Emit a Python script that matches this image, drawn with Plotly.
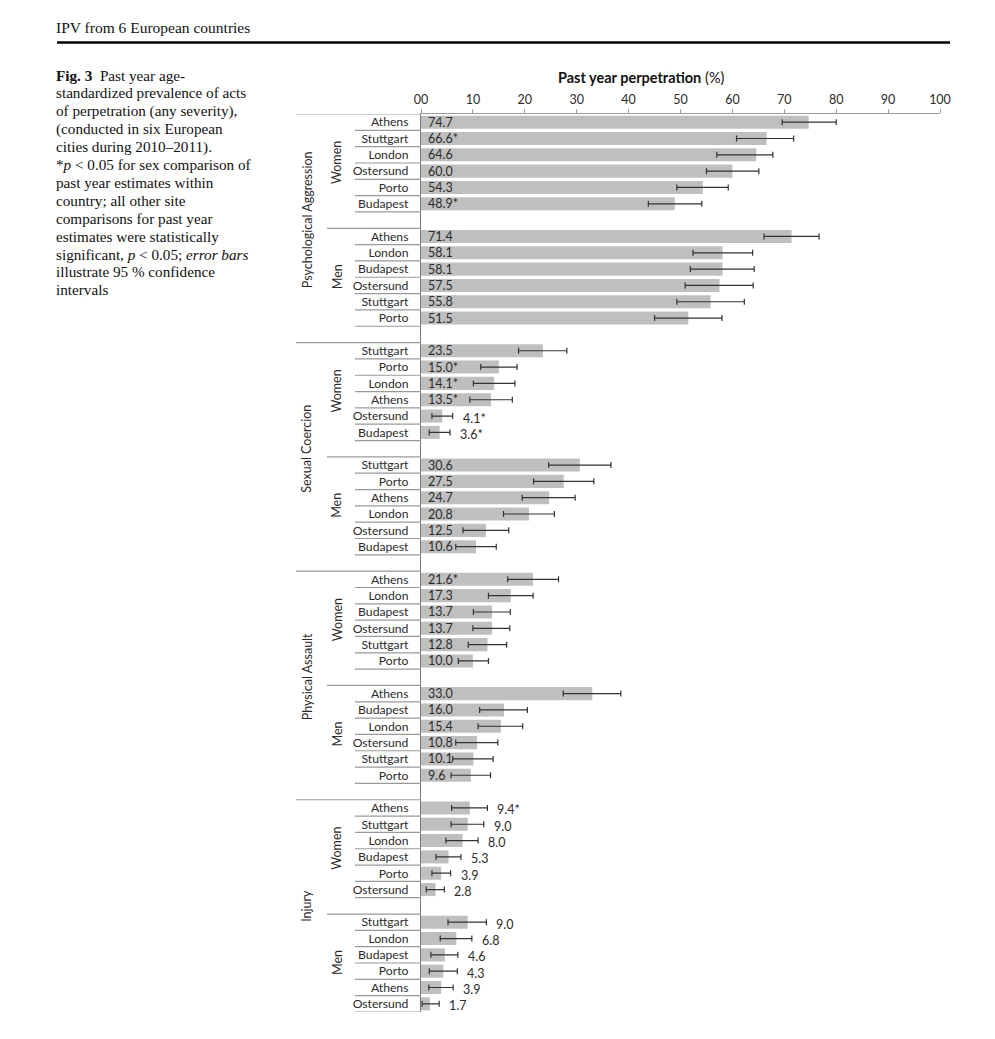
import plotly.graph_objects as go

# ---------------- data ----------------
categories = ["Psychological Aggression", "Sexual Coercion", "Physical Assault", "Injury"]
sexes = ["Women", "Men"]

x_ticks = [0, 10, 20, 30, 40, 50, 60, 70, 80, 90, 100]
x_tick_labels = ["00", "10", "20", "30", "40", "50", "60", "70", "80", "90", "100"]

psych_women_city = ["Athens", "Stuttgart", "London", "Ostersund", "Porto", "Budapest"]
psych_women_pct = [74.7, 66.6, 64.6, 60.0, 54.3, 48.9]
psych_women_lo = [69.6, 60.8, 57.0, 55.0, 49.3, 43.8]
psych_women_hi = [80.0, 71.8, 67.8, 65.1, 59.2, 54.1]
psych_women_sig = [0, 1, 0, 0, 0, 1]

psych_men_city = ["Athens", "London", "Budapest", "Ostersund", "Stuttgart", "Porto"]
psych_men_pct = [71.4, 58.1, 58.1, 57.5, 55.8, 51.5]
psych_men_lo = [66.1, 52.4, 51.9, 50.9, 49.3, 45.0]
psych_men_hi = [76.7, 63.9, 64.2, 64.0, 62.3, 58.0]
psych_men_sig = [0, 0, 0, 0, 0, 0]

sexual_women_city = ["Stuttgart", "Porto", "London", "Athens", "Ostersund", "Budapest"]
sexual_women_pct = [23.5, 15.0, 14.1, 13.5, 4.1, 3.6]
sexual_women_lo = [18.8, 11.5, 10.1, 9.4, 2.1, 1.6]
sexual_women_hi = [28.1, 18.5, 18.1, 17.6, 6.1, 5.6]
sexual_women_sig = [0, 1, 1, 1, 1, 1]

sexual_men_city = ["Stuttgart", "Porto", "Athens", "London", "Ostersund", "Budapest"]
sexual_men_pct = [30.6, 27.5, 24.7, 20.8, 12.5, 10.6]
sexual_men_lo = [24.6, 21.7, 19.5, 15.9, 8.1, 6.7]
sexual_men_hi = [36.6, 33.3, 29.7, 25.7, 16.9, 14.5]
sexual_men_sig = [0, 0, 0, 0, 0, 0]

physical_women_city = ["Athens", "London", "Budapest", "Ostersund", "Stuttgart", "Porto"]
physical_women_pct = [21.6, 17.3, 13.7, 13.7, 12.8, 10.0]
physical_women_lo = [16.7, 13.0, 10.1, 10.0, 9.1, 7.2]
physical_women_hi = [26.5, 21.6, 17.2, 17.1, 16.5, 13.0]
physical_women_sig = [1, 0, 0, 0, 0, 0]

physical_men_city = ["Athens", "Budapest", "London", "Ostersund", "Stuttgart", "Porto"]
physical_men_pct = [33.0, 16.0, 15.4, 10.8, 10.1, 9.6]
physical_men_lo = [27.4, 11.3, 11.0, 6.7, 6.1, 5.8]
physical_men_hi = [38.5, 20.5, 19.6, 14.8, 13.9, 13.4]
physical_men_sig = [0, 0, 0, 0, 0, 0]

injury_women_city = ["Athens", "Stuttgart", "London", "Budapest", "Porto", "Ostersund"]
injury_women_pct = [9.4, 9.0, 8.0, 5.3, 3.9, 2.8]
injury_women_lo = [5.9, 5.8, 4.8, 2.9, 2.1, 1.0]
injury_women_hi = [12.8, 12.1, 11.0, 7.7, 5.7, 4.5]
injury_women_sig = [1, 0, 0, 0, 0, 0]

injury_men_city = ["Stuttgart", "London", "Budapest", "Porto", "Athens", "Ostersund"]
injury_men_pct = [9.0, 6.8, 4.6, 4.3, 3.9, 1.7]
injury_men_lo = [5.2, 3.7, 1.9, 1.6, 1.5, 0.2]
injury_men_hi = [12.6, 9.8, 7.1, 7.0, 6.2, 3.5]
injury_men_sig = [0, 0, 0, 0, 0, 0]

header_text = "IPV from 6 European countries"
caption_lines = [
    "<b>Fig. 3</b>  Past year age-",
    "standardized prevalence of acts",
    "of perpetration (any severity),",
    "(conducted in six European",
    "cities during 2010–2011).",
    "*<i>p</i> &lt; 0.05 for sex comparison of",
    "past year estimates within",
    "country; all other site",
    "comparisons for past year",
    "estimates were statistically",
    "significant, <i>p</i> &lt; 0.05; <i>error bars</i>",
    "illustrate 95 % confidence",
    "intervals",
]

groups = [
    (psych_women_city, psych_women_pct, psych_women_lo, psych_women_hi, psych_women_sig),
    (psych_men_city, psych_men_pct, psych_men_lo, psych_men_hi, psych_men_sig),
    (sexual_women_city, sexual_women_pct, sexual_women_lo, sexual_women_hi, sexual_women_sig),
    (sexual_men_city, sexual_men_pct, sexual_men_lo, sexual_men_hi, sexual_men_sig),
    (physical_women_city, physical_women_pct, physical_women_lo, physical_women_hi, physical_women_sig),
    (physical_men_city, physical_men_pct, physical_men_lo, physical_men_hi, physical_men_sig),
    (injury_women_city, injury_women_pct, injury_women_lo, injury_women_hi, injury_women_sig),
    (injury_men_city, injury_men_pct, injury_men_lo, injury_men_hi, injury_men_sig),
]

# ---------------- layout geometry (page pixels) ----------------
OFF = 8  # page body margin
W, H = 995 - OFF, 1039 - OFF
PL, PR, PT, PB = 421, 940, 114, 1012  # plot area in page pixels
pw, ph = PR - PL, PB - PT


def px_x(p):
    return (p - PL) / pw


def px_y(p):
    return (PB - p) / ph


FONT = "Lato, 'Open Sans', sans-serif"
SERIF = "'Liberation Serif', 'DejaVu Serif', serif"
DARK = "#2b2b2b"
LINE = "#9a9a9a"
SZ = 12.2

ys, xs, err_p, err_m, ticks_v, ticks_t = [], [], [], [], [], []
annotations, shapes = [], []
row_step = 7
for g, (city, pct, lo, hi, sig) in enumerate(groups):
    start = g * row_step
    for i in range(len(city)):
        r = start + i
        ys.append(r)
        xs.append(pct[i])
        err_p.append(round(hi[i] - pct[i], 2))
        err_m.append(round(pct[i] - lo[i], 2))
        ticks_v.append(r)
        ticks_t.append(city[i])
        label = f"{pct[i]:.1f}" + ("*" if sig[i] else "")
        if pct[i] >= 9.5:
            annotations.append(dict(x=0, y=r, xref="x", yref="y", text=label, showarrow=False,
                                    xanchor="left", yanchor="middle", xshift=5,
                                    font=dict(family=FONT, size=12.5, color=DARK)))
        else:
            annotations.append(dict(x=hi[i], y=r, xref="x", yref="y", text=label, showarrow=False,
                                    xanchor="left", yanchor="middle", xshift=8, yshift=-2,
                                    font=dict(family=FONT, size=12.5, color=DARK)))
        shapes.append(dict(type="line", xref="paper", yref="y", x0=px_x(355), x1=0,
                           y0=r + 0.5, y1=r + 0.5, line=dict(color=LINE, width=1.2)))
    x0 = px_x(296) if g % 2 == 0 else px_x(327)
    shapes.append(dict(type="line", xref="paper", yref="y", x0=x0, x1=0,
                       y0=start - 0.5, y1=start - 0.5, line=dict(color=LINE, width=1.2)))
    annotations.append(dict(x=px_x(337), y=start + (len(city) - 1) / 2, xref="paper", yref="y",
                            text=sexes[g % 2], showarrow=False, textangle=-90,
                            xanchor="center", yanchor="middle",
                            font=dict(family=FONT, size=12.5, color=DARK)))

for c, name in enumerate(categories):
    first = c * 2 * row_step
    last = first + row_step + 5
    annotations.append(dict(x=px_x(307), y=(first + last) / 2, xref="paper", yref="y",
                            text=name, showarrow=False, textangle=-90,
                            xanchor="center", yanchor="middle",
                            font=dict(family=FONT, size=12.5, color=DARK)))

n_rows = ys[-1] + 1

annotations.append(dict(x=px_x(54), y=px_y(28), xref="paper", yref="paper", text=header_text,
                        showarrow=False, xanchor="left", yanchor="middle",
                        font=dict(family=SERIF, size=15.5, color="#111")))
shapes.append(dict(type="line", xref="paper", yref="paper", x0=px_x(57), x1=px_x(950),
                   y0=px_y(42.5), y1=px_y(42.5), line=dict(color="#000", width=2.5)))
for k, line in enumerate(caption_lines):
    annotations.append(dict(x=px_x(54), y=px_y(75 + k * 17.9), xref="paper", yref="paper",
                            text=line, showarrow=False, xanchor="left", yanchor="middle",
                            font=dict(family=SERIF, size=15.2, color="#111")))
annotations.append(dict(x=px_x(641), y=px_y(77), xref="paper", yref="paper",
                        text="<b>Past year perpetration</b> (%)", showarrow=False,
                        xanchor="center", yanchor="middle",
                        font=dict(family=FONT, size=14.5, color="#111")))

fig = go.Figure()
fig.add_trace(go.Bar(
    x=xs, y=ys, orientation="h", width=0.8,
    marker=dict(color="#bfbfbf", line=dict(width=0)),
    error_x=dict(type="data", symmetric=False, array=err_p, arrayminus=err_m,
                 color="#333333", thickness=1.2, width=3),
    hoverinfo="skip",
))

fig.update_layout(
    width=W, height=H,
    margin=dict(l=PL - OFF, r=995 - PR, t=PT - OFF, b=1039 - PB, pad=0),
    paper_bgcolor="white", plot_bgcolor="white",
    showlegend=False,
    annotations=annotations, shapes=shapes,
    xaxis=dict(side="top", range=[0, 100], tickvals=x_ticks, ticktext=x_tick_labels,
               showgrid=False, zeroline=False, showline=True, linecolor=LINE, linewidth=1.2,
               ticks="outside", ticklen=4, tickcolor=LINE, tickwidth=1,
               tickfont=dict(family=FONT, size=12.5, color=DARK)),
    yaxis=dict(range=[n_rows - 0.5, -0.5], tickvals=ticks_v, ticktext=ticks_t,
               showgrid=False, zeroline=False, showline=True, linecolor="#777", linewidth=1.2,
               ticks="", ticklabelstandoff=9,
               tickfont=dict(family=FONT, size=SZ, color=DARK)),
)

fig.write_html("out.html")
